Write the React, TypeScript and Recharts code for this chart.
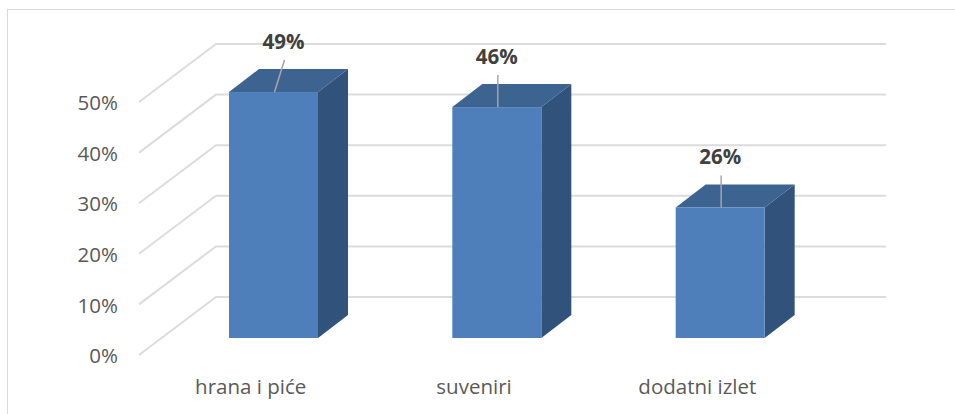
import { BarChart, Bar, XAxis, YAxis, CartesianGrid, LabelList } from 'recharts';

const categories = ['hrana i piće', 'suveniri', 'dodatni izlet'];
const shares = [49, 46, 26];
const yTicks = [0, 10, 20, 30, 40, 50];
// first label is pulled off to the right of its bar in the original
const leaderLean = [10, 0, 0];

const rows = categories.map((name, i) => ({ name, share: shares[i] }));

const FONT = '"Open Sans", sans-serif';

// fake 3D: walls recede by this much, bars sit part of the way in
const WALL_DX = 77;
const WALL_DY = 58;
const BAR_DX = 23;
const BAR_DY = 17;
const DEPTH_DX = 30;
const DEPTH_DY = 23;
// bars stand off the wall, so they come out a touch shorter than the gridlines
const BAR_SHRINK = 0.992;

function WallLine(props: any) {
  const { x1, x2, y1 } = props;
  return (
    <polyline
      points={`${x1},${y1} ${x1 + WALL_DX},${y1 - WALL_DY} ${x2 + WALL_DX},${y1 - WALL_DY}`}
      fill="none"
      stroke="#dcdcdc"
      strokeWidth={2}
    />
  );
}

function Box(props: any) {
  const { x, y, width, height } = props;
  const l = x + BAR_DX;
  const r = l + width;
  const b = y + height - BAR_DY;
  const t = b - height * BAR_SHRINK;
  return (
    <g>
      <polygon points={`${r},${t} ${r + DEPTH_DX},${t - DEPTH_DY} ${r + DEPTH_DX},${b - DEPTH_DY} ${r},${b}`} fill="#31527b" />
      <polygon points={`${l},${t} ${l + DEPTH_DX},${t - DEPTH_DY} ${r + DEPTH_DX},${t - DEPTH_DY} ${r},${t}`} fill="#3d6391" />
      <rect x={l} y={t} width={width} height={b - t} fill="#4e7fbb" />
    </g>
  );
}

function Callout(props: any) {
  const { x, y, width, height, value, index } = props;
  const cx = x + BAR_DX + width / 2 + 1;
  const top = y + height - BAR_DY - height * BAR_SHRINK;
  const lean = leaderLean[index];
  return (
    <g>
      <line x1={cx} y1={top} x2={cx + lean} y2={top - 32} stroke="#a6a6a6" strokeWidth={1.5} />
      <text
        x={cx + lean - 1}
        y={top - 49}
        textAnchor="middle"
        dominantBaseline="middle"
        fontFamily={FONT}
        fontSize={20.5}
        fontWeight={700}
        fill="#404040"
      >
        {value}%
      </text>
    </g>
  );
}

export default function App() {
  return (
    <div
      style={{
        position: 'absolute',
        left: 0,
        top: 0,
        width: 955,
        height: 414,
        background: '#fff',
        overflow: 'hidden',
      }}
    >
      <div
        style={{
          position: 'absolute',
          left: 7,
          top: 9,
          width: 960,
          height: 420,
          border: '1.5px solid #d9d9d9',
        }}
      />
      <BarChart
        width={955}
        height={414}
        data={rows}
        barCategoryGap="30%"
        margin={{ top: 102, right: 146, bottom: 0, left: 0 }}
        style={{ position: 'absolute', left: 0, top: 0 }}
      >
        <CartesianGrid vertical={false} horizontal={WallLine as any} />
        <XAxis
          dataKey="name"
          height={59}
          axisLine={false}
          tickLine={false}
          interval={0}
          tickMargin={18}
          tick={{ fontFamily: FONT, fontSize: 20.5, fill: '#595959' }}
        />
        <YAxis
          width={139}
          domain={[0, 50]}
          ticks={yTicks}
          axisLine={false}
          tickLine={false}
          tickMargin={15}
          tickFormatter={(v: number) => `${v}%`}
          tick={{ fontFamily: FONT, fontSize: 20.5, fill: '#595959', dy: 1 }}
        />
        <Bar dataKey="share" shape={Box} isAnimationActive={false}>
          <LabelList dataKey="share" content={Callout} />
        </Bar>
      </BarChart>
    </div>
  );
}
